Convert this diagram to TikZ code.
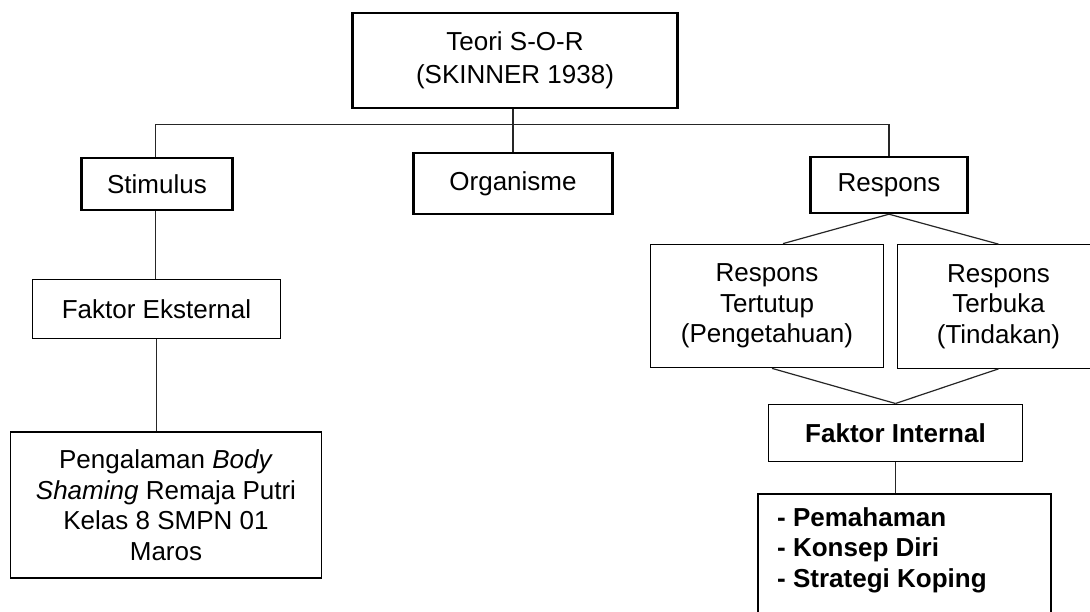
\documentclass[tikz,border=0pt]{standalone}
\usepackage{fontspec}
\setmainfont{Liberation Sans}
\usetikzlibrary{calc}
\tikzset{
  boxbase/.style={draw=black, rectangle, align=center, inner sep=0pt,
    font=\fontsize{26bp}{30.5bp}\selectfont},
  thickbox/.style={boxbase, line width=2.6bp},
  thinbox/.style={boxbase, line width=1.2bp},
  midbox/.style={boxbase, line width=1.8bp},
  conn/.style={draw=black!85, line width=1.2bp}
}
\begin{document}
\begin{tikzpicture}[x=1bp,y=-1bp]
\useasboundingbox (0,0) rectangle (1090,612);
\fill[white] (0,0) rectangle (1090,612);
\clip (0,0) rectangle (1090,612);

\node[thickbox, minimum width=326, minimum height=95,
      font=\fontsize{26bp}{33bp}\selectfont] (T) at (515,60.5) {Teori S-O-R\\(SKINNER 1938)};
\node[thickbox, minimum width=151, minimum height=52] (S) at (157,184) {Stimulus};
\node[thickbox, minimum width=200, minimum height=61] (O) at (513,183.5) {Organisme};
\node[thickbox, minimum width=158, minimum height=56] (R) at (889,185) {Respons};

\node[thinbox, minimum width=249, minimum height=60] (FE) at (156.5,309) {Faktor Eksternal};
\node[midbox, minimum width=312, minimum height=146] (P) at (166,505)
  {Pengalaman \textit{Body}\\\textit{Shaming} Remaja Putri\\Kelas 8 SMPN 01\\Maros};

\node[thinbox, minimum width=234, minimum height=124] (RT) at (767,306)
  {Respons\\Tertutup\\(Pengetahuan)};
\node[thinbox, minimum width=203, minimum height=124] (RB) at (998.5,306.5)
  {Respons\\Terbuka\\(Tindakan)};
\node[thinbox, minimum width=255, minimum height=58, font=\fontsize{26bp}{30.5bp}\selectfont\bfseries] (FI) at (895.5,433) {Faktor Internal};

\node[midbox, minimum width=294, minimum height=150, anchor=north west] (L) at (757,493) {};
\node[align=left, anchor=north west, inner sep=0pt,
      font=\fontsize{26bp}{30.5bp}\selectfont\bfseries] (Ltxt) at (777,507)
  {- Pemahaman\\- Konsep Diri\\- Strategi Koping};

% connectors
\draw[conn] (T.south -| O.north) -- (O.north);
\draw[conn] ($(S.north)+(-1.5,0)$) -- ++(0,-32) -| (R.north);
\draw[conn] ($(S.south)+(-1.5,0)$) -- ($(S.south |- FE.north)+(-1.5,0)$);
\draw[conn] (FE.south) -- (FE.south |- P.north);
\draw[conn] (R.south) -- ($(RT.north)+(16,0)$);
\draw[conn] (R.south) -- (RB.north);
\draw[conn] ($(RT.south)+(5,0)$) -- (FI.north);
\draw[conn] (RB.south) -- (FI.north);
\draw[conn] (FI.south) -- (FI.south |- L.north);
\end{tikzpicture}
\end{document}
